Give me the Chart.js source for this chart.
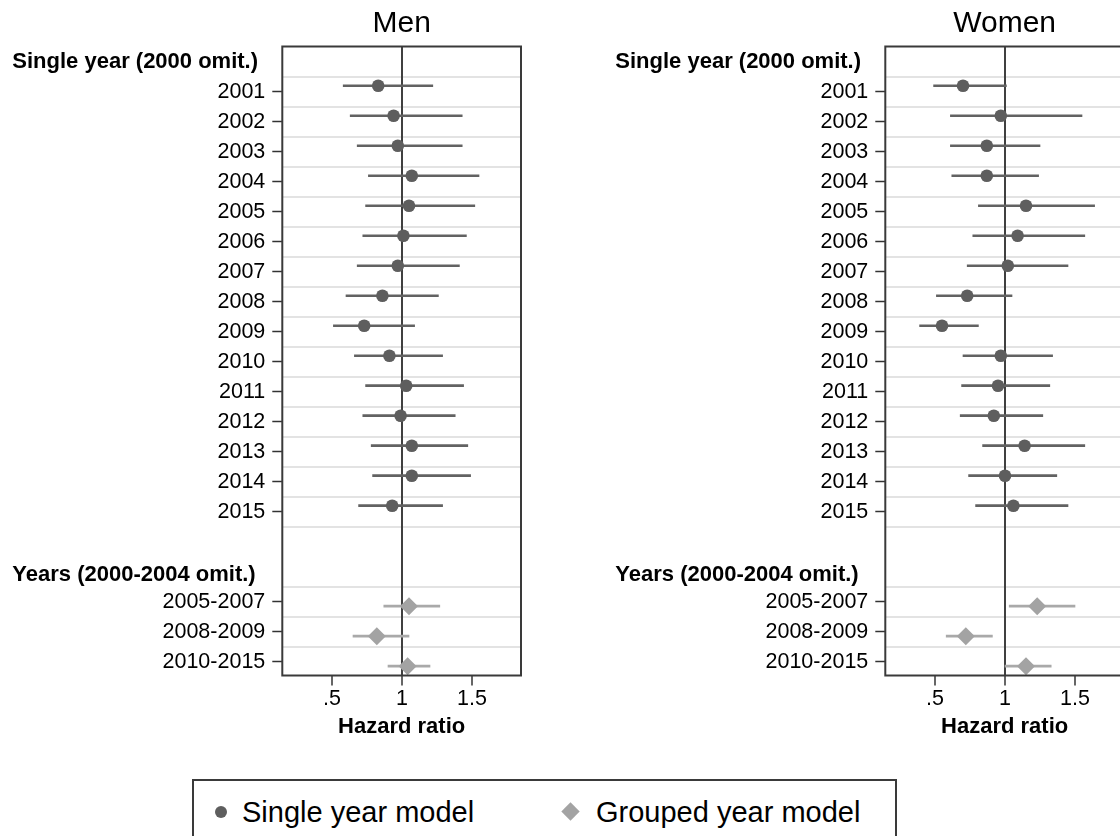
<!DOCTYPE html>
<html>
<head>
<meta charset="utf-8">
<title>Hazard ratios by year</title>
<script src="https://cdn.jsdelivr.net/npm/chart.js@4.4.1/dist/chart.umd.min.js"></script>
<style>
  html, body { margin: 0; padding: 0; background: #fff; }
  body { position: relative; width: 1120px; height: 836px; overflow: hidden; }
  canvas { position: absolute; top: 0; }
  #men { left: 0; }
  #women { left: 603px; }
  .legend {
    position: absolute; left: 192px; top: 779px; width: 705px; height: 80px;
    border: 2px solid #3a3a3a; box-sizing: border-box;
    font: 29px "Liberation Sans", Arial, sans-serif; color: #000;
  }
  .legend span { position: absolute; top: 14px; height: 34px; line-height: 34px; white-space: nowrap; }
  .legend .dot { position: absolute; left: 21px; top: 25px; width: 12px; height: 12px; border-radius: 50%; background: #5e5e5e; }
  .legend .diamond { position: absolute; left: 370px; top: 24px; width: 13px; height: 13px; background: #a3a3a3; transform: rotate(45deg); }
</style>
</head>
<body>
<canvas id="men" width="560" height="760"></canvas>
<canvas id="women" width="560" height="760"></canvas>
<div class="legend">
  <div class="dot"></div><span style="left:48px">Single year model</span>
  <div class="diamond"></div><span style="left:402px">Grouped year model</span>
</div>
<script>
// row labels
const singleYears = ['2001', '2002', '2003', '2004', '2005', '2006', '2007', '2008',
  '2009', '2010', '2011', '2012', '2013', '2014', '2015'];
const groupedYears = ['2005-2007', '2008-2009', '2010-2015'];
const headerText = ['Single year (2000 omit.)', 'Years (2000-2004 omit.)'];

// x axis ticks
const xTickValues = [0.5, 1, 1.5];
const xTickLabels = ['.5', '1', '1.5'];

// men, single year model
const menSingleHR = [0.83, 0.94, 0.97, 1.07, 1.05, 1.01, 0.97, 0.86, 0.73, 0.91, 1.03, 0.99, 1.07, 1.07, 0.93];
const menSingleLo = [0.58, 0.63, 0.68, 0.76, 0.74, 0.72, 0.68, 0.60, 0.51, 0.66, 0.74, 0.72, 0.78, 0.79, 0.69];
const menSingleHi = [1.22, 1.43, 1.43, 1.55, 1.52, 1.46, 1.41, 1.26, 1.09, 1.29, 1.44, 1.38, 1.47, 1.49, 1.29];
// men, grouped year model
const menGroupedHR = [1.05, 0.82, 1.04];
const menGroupedLo = [0.87, 0.65, 0.90];
const menGroupedHi = [1.27, 1.05, 1.20];

// women, single year model
const womenSingleHR = [0.70, 0.97, 0.87, 0.87, 1.15, 1.09, 1.02, 0.73, 0.55, 0.97, 0.95, 0.92, 1.14, 1.00, 1.06];
const womenSingleLo = [0.49, 0.61, 0.61, 0.62, 0.81, 0.77, 0.73, 0.51, 0.39, 0.70, 0.69, 0.68, 0.84, 0.74, 0.79];
const womenSingleHi = [1.01, 1.55, 1.25, 1.24, 1.64, 1.57, 1.45, 1.05, 0.81, 1.34, 1.32, 1.27, 1.57, 1.37, 1.45];
// women, grouped year model
const womenGroupedHR = [1.23, 0.72, 1.15];
const womenGroupedLo = [1.03, 0.58, 1.00];
const womenGroupedHi = [1.50, 0.91, 1.33];

Chart.defaults.font.family = '"Liberation Sans", Arial, sans-serif';
Chart.defaults.color = '#000';

// layout of the coefficient rows (one unit = one row)
const singleRows = singleYears.map((_, i) => i + 1);
const groupedRows = groupedYears.map((_, i) => 18 + i);
const headerRows = [0, 17.1];
const tickRows = singleRows.concat(groupedRows);
const tickNames = singleYears.concat(groupedYears);
const gridRows = singleRows.map(r => r - 0.5).concat([15.5], groupedRows.map(r => r - 0.5));
const singleShift = -0.2;
const groupedShift = 0.15;
const yMin = -0.507, yMax = 20.46;
const xMin = 0.145, xMax = 1.85;

// section headings in the label column and the box round the plot
const panelDecor = {
  id: 'panelDecor',
  afterDraw(chart) {
    const { ctx, chartArea: a, scales } = chart;
    ctx.save();
    ctx.font = 'bold 22px "Liberation Sans", Arial, sans-serif';
    ctx.fillStyle = '#000';
    ctx.textAlign = 'left';
    ctx.textBaseline = 'middle';
    headerText.forEach((t, i) => ctx.fillText(t, a.left - 270, scales.y.getPixelForValue(headerRows[i])));
    ctx.strokeStyle = '#3a3a3a';
    ctx.lineWidth = 2;
    ctx.strokeRect(a.left, a.top, a.right - a.left, a.bottom - a.top);
    ctx.restore();
  }
};

function buildPanel(id, title, hr, lo, hi, ghr, glo, ghi) {
  return new Chart(document.getElementById(id), {
    type: 'scatter',
    data: {
      datasets: [
        {
          type: 'bar', indexAxis: 'y', grouped: false, order: 2,
          data: singleRows.map((r, i) => ({ y: r + singleShift, x: [lo[i], hi[i]] })),
          backgroundColor: '#626262', barThickness: 2, borderWidth: 0
        },
        {
          type: 'bar', indexAxis: 'y', grouped: false, order: 2,
          data: groupedRows.map((r, i) => ({ y: r + groupedShift, x: [glo[i], ghi[i]] })),
          backgroundColor: '#a9a9a9', barThickness: 2, borderWidth: 0
        },
        {
          label: 'Single year model', order: 1,
          data: singleRows.map((r, i) => ({ x: hr[i], y: r + singleShift })),
          pointStyle: 'circle', pointRadius: 6.3, backgroundColor: '#5e5e5e', borderWidth: 0
        },
        {
          label: 'Grouped year model', order: 1,
          data: groupedRows.map((r, i) => ({ x: ghr[i], y: r + groupedShift })),
          pointStyle: 'rectRot', pointRadius: 9, backgroundColor: '#a3a3a3', borderWidth: 0
        }
      ]
    },
    options: {
      responsive: false,
      animation: false,
      events: [],
      layout: { padding: { left: 0, right: 39, top: 0, bottom: 0 } },
      plugins: {
        legend: { display: false },
        tooltip: { enabled: false },
        title: {
          display: true, text: title, fullSize: false, color: '#000',
          font: { size: 30, weight: 'normal' }, padding: { top: 6, bottom: 4.5 }
        }
      },
      scales: {
        yg: {
          type: 'linear', position: 'right', reverse: true, min: yMin, max: yMax,
          afterBuildTicks: s => { s.ticks = gridRows.map(v => ({ value: v })); },
          afterFit: s => { s.width = 0; },
          ticks: { display: false },
          grid: { color: '#e3e3e3', lineWidth: 2, drawTicks: false },
          border: { display: false }
        },
        x: {
          type: 'linear', min: xMin, max: xMax, offset: false,
          afterBuildTicks: s => { s.ticks = xTickValues.map(v => ({ value: v })); },
          afterFit: s => { s.height = 84.5; },
          ticks: {
            callback: (v, i) => xTickLabels[i], font: { size: 21.5 }, color: '#000',
            padding: 1, maxRotation: 0, autoSkip: false
          },
          grid: {
            color: c => (c.tick && c.tick.value === 1 ? '#404040' : 'rgba(0,0,0,0)'),
            lineWidth: 2, tickColor: '#333', tickWidth: 1.5, tickLength: 10
          },
          border: { display: false },
          title: {
            display: true, text: 'Hazard ratio', color: '#000',
            font: { size: 22, weight: 'bold' }, padding: { top: 0, bottom: 19.8 }
          }
        },
        y: {
          type: 'linear', position: 'left', reverse: true, min: yMin, max: yMax, offset: false,
          afterBuildTicks: s => { s.ticks = tickRows.map(v => ({ value: v })); },
          afterFit: s => { s.width = 282.3; },
          ticks: {
            callback: v => tickNames[tickRows.indexOf(v)], font: { size: 21.5 }, color: '#000',
            padding: 7, autoSkip: false
          },
          grid: { drawOnChartArea: false, tickLength: 10, tickColor: '#333', tickWidth: 1.5, offset: false },
          border: { display: false }
        }
      }
    },
    plugins: [panelDecor]
  });
}

buildPanel('men', 'Men', menSingleHR, menSingleLo, menSingleHi, menGroupedHR, menGroupedLo, menGroupedHi);
buildPanel('women', 'Women', womenSingleHR, womenSingleLo, womenSingleHi, womenGroupedHR, womenGroupedLo, womenGroupedHi);
</script>
</body>
</html>
